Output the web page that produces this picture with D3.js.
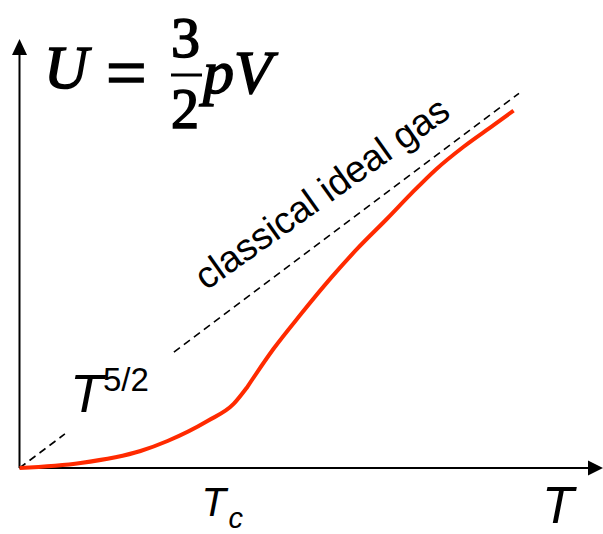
<!DOCTYPE html>
<html>
<head>
<meta charset="utf-8">
<script src="https://cdn.jsdelivr.net/npm/d3@7"></script>
<style>
  html, body { margin: 0; padding: 0; background: #fff; }
  svg { display: block; }
</style>
</head>
<body>
<script>
// ---- data (T in units of Tc, U in matching units) ----
const lowT  = [0, 0.269, 0.533, 0.652, 0.828, 0.943, 1.0];
const lowU  = [0, 0.022, 0.075, 0.119, 0.207, 0.282, 0.352];
const highT = [1.0, 1.119, 1.238, 1.370, 1.489, 1.621, 1.722, 1.833, 1.956, 2.088, 2.176];
const highU = [0.352, 0.525, 0.676, 0.835, 0.967, 1.100, 1.205, 1.314, 1.415, 1.510, 1.574];
const classicalSlope = 0.75;
const classicalSeg1 = [0, 0.2];
const classicalSeg2 = [0.68, 2.2];
const Tc = 1.0;
const xMax = 2.57, yMax = 1.885;

const W = 603, H = 534;
const svg = d3.select("body").append("svg").attr("width", W).attr("height", H);

const x = d3.scaleLinear().domain([0, xMax]).range([19.5, 603]);
const y = d3.scaleLinear().domain([0, yMax]).range([468, 40]);

// axes
const arrowLen = 15, arrowHalf = 7.5;
svg.append("line").attr("x1", x(0)).attr("y1", y(0)).attr("x2", x(0)).attr("y2", y(yMax) + arrowLen)
  .attr("stroke", "#000").attr("stroke-width", 2);
svg.append("path")
  .attr("d", `M${x(0)},${y(yMax) - 1}L${x(0) - arrowHalf},${y(yMax) + arrowLen}L${x(0) + arrowHalf},${y(yMax) + arrowLen}Z`)
  .attr("fill", "#000");
svg.append("line").attr("x1", x(0)).attr("y1", y(0)).attr("x2", x(xMax) - arrowLen).attr("y2", y(0))
  .attr("stroke", "#000").attr("stroke-width", 2);
svg.append("path")
  .attr("d", `M${x(xMax)},${y(0)}L${x(xMax) - arrowLen},${y(0) - arrowHalf}L${x(xMax) - arrowLen},${y(0) + arrowHalf}Z`)
  .attr("fill", "#000");

// classical ideal gas dashed line
[classicalSeg1, classicalSeg2].forEach(seg => {
  svg.append("line")
    .attr("x1", x(seg[0])).attr("y1", y(seg[0] * classicalSlope))
    .attr("x2", x(seg[1])).attr("y2", y(seg[1] * classicalSlope))
    .attr("stroke", "#000").attr("stroke-width", 1.6).attr("stroke-dasharray", "7.5,5");
});

// red curve (two smooth pieces joined with a kink at Tc)
const line = d3.line().x(d => x(d[0])).y(d => y(d[1])).curve(d3.curveMonotoneX);
const lowPts = lowT.map((t, i) => [t, lowU[i]]);
const highPts = highT.map((t, i) => [t, highU[i]]);
const dLow = line(lowPts);
const dHigh = line(highPts).replace(/^M[^CL]*/, "");
svg.append("path").attr("d", dLow + dHigh)
  .attr("fill", "none").attr("stroke", "#ff2a00").attr("stroke-width", 4)
  .attr("stroke-linejoin", "miter").attr("stroke-linecap", "butt");

// formula U = 3/2 pV
const serif = "'Liberation Serif', 'Times New Roman', serif";
const f = svg.append("g").attr("fill", "#000").attr("stroke", "#000").attr("stroke-width", 1.6)
  .style("font-family", serif);
f.append("text").attr("x", 44).attr("y", 88).style("font-size", "61px").style("font-style", "italic").text("U");
f.append("text").attr("x", 106).attr("y", 97).style("font-size", "72px").text("=");
f.append("text").attr("x", 171).attr("y", 57).style("font-size", "58px").text("3");
f.append("text").attr("x", 171).attr("y", 128).style("font-size", "56px").text("2");
f.append("line").attr("x1", 171).attr("x2", 202).attr("y1", 75).attr("y2", 75).attr("stroke-width", 3);
f.append("text").attr("x", 203).attr("y", 93).style("font-size", "62px").style("font-style", "italic").text("pV");

// sans labels
const sans = "'Liberation Sans', Arial, Helvetica, sans-serif";
svg.append("text").attr("x", 70).attr("y", 412).style("font-family", sans)
  .style("font-size", "54px").style("font-style", "italic").attr("fill", "#000").text("T");
svg.append("text").attr("x", 103).attr("y", 391).style("font-family", sans)
  .style("font-size", "33px").attr("fill", "#000").text("5/2");

svg.append("text").attr("x", x(Tc) - 45).attr("y", 516).style("font-family", sans)
  .style("font-size", "40px").style("font-style", "italic").attr("fill", "#000").text("T");
svg.append("text").attr("x", x(Tc) - 18).attr("y", 528).style("font-family", sans)
  .style("font-size", "29px").style("font-style", "italic").attr("fill", "#000").text("c");

svg.append("text").attr("x", 542).attr("y", 523).style("font-family", sans)
  .style("font-size", "52px").style("font-style", "italic").attr("fill", "#000").text("T");

svg.append("text")
  .attr("transform", "translate(206,291) rotate(-35.4)")
  .style("font-family", sans).style("font-size", "37.5px").attr("fill", "#000")
  .text("classical ideal gas");
</script>
</body>
</html>
